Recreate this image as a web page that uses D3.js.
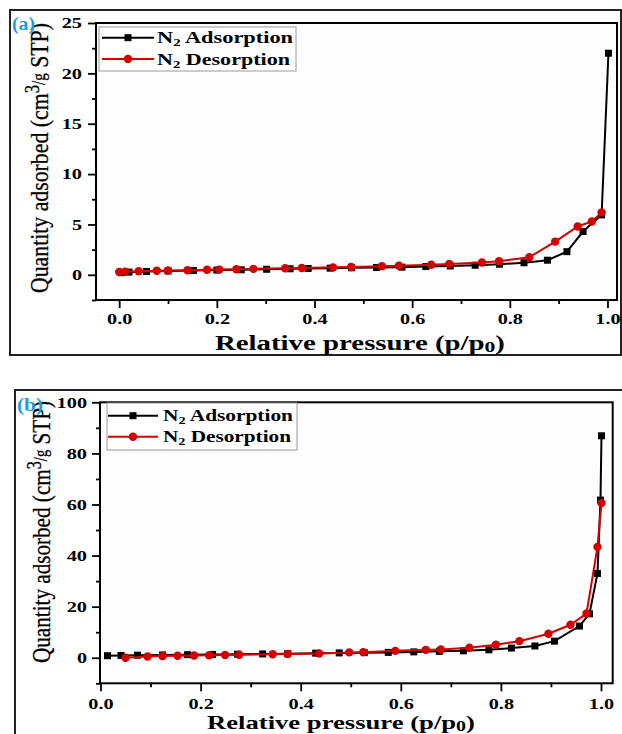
<!DOCTYPE html>
<html>
<head>
<meta charset="utf-8">
<script src="https://cdn.jsdelivr.net/npm/d3@7"></script>
<style>
  html, body { margin: 0; padding: 0; background: #fff; }
  svg { display: block; }
  text { font-family: "Liberation Serif", "DejaVu Serif", serif; }
</style>
</head>
<body>
<svg id="chart" width="622" height="734"></svg>
<script>
// ---- Panel (a): N2 isotherm ----
const adsP_A = [0.005, 0.02, 0.056, 0.10, 0.152, 0.20, 0.25, 0.302, 0.35, 0.387, 0.432, 0.476, 0.527, 0.579, 0.628, 0.678, 0.729, 0.779, 0.829, 0.877, 0.917, 0.950, 0.988, 1.002];
const adsV_A = [0.22, 0.27, 0.33, 0.38, 0.43, 0.47, 0.50, 0.55, 0.60, 0.63, 0.66, 0.70, 0.73, 0.76, 0.82, 0.88, 0.95, 1.05, 1.20, 1.45, 2.30, 4.30, 5.95, 22.0];
const desP_A = [0.0, 0.012, 0.04, 0.077, 0.10, 0.14, 0.18, 0.205, 0.24, 0.275, 0.34, 0.374, 0.438, 0.475, 0.538, 0.573, 0.639, 0.676, 0.743, 0.778, 0.84, 0.893, 0.939, 0.968, 0.988];
const desV_A = [0.28, 0.32, 0.36, 0.40, 0.43, 0.46, 0.50, 0.52, 0.56, 0.59, 0.65, 0.68, 0.74, 0.78, 0.86, 0.90, 1.00, 1.08, 1.22, 1.35, 1.75, 3.30, 4.80, 5.30, 6.20];

// ---- Panel (b): N2 isotherm ----
const adsP_B = [0.014, 0.041, 0.074, 0.124, 0.174, 0.224, 0.274, 0.324, 0.374, 0.43, 0.477, 0.527, 0.575, 0.626, 0.677, 0.725, 0.776, 0.821, 0.868, 0.907, 0.957, 0.977, 0.993, 0.999, 1.001];
const adsV_B = [0.8, 0.9, 1.0, 1.1, 1.2, 1.3, 1.4, 1.5, 1.6, 1.8, 1.9, 2.0, 2.1, 2.3, 2.5, 2.7, 3.1, 3.8, 4.6, 6.5, 12.4, 17.2, 33.0, 61.7, 86.9];
const desP_B = [0.05, 0.094, 0.124, 0.154, 0.187, 0.217, 0.249, 0.277, 0.344, 0.374, 0.437, 0.497, 0.525, 0.589, 0.65, 0.68, 0.737, 0.79, 0.837, 0.895, 0.939, 0.971, 0.993, 1.001];
const desV_B = [0.0, 0.5, 0.7, 0.8, 0.9, 1.0, 1.1, 1.2, 1.4, 1.5, 1.7, 2.1, 2.2, 2.7, 3.1, 3.25, 3.9, 5.1, 6.5, 9.4, 12.9, 17.3, 43.4, 60.6];

// ---- Ticks and labels ----
const xTicks = [0, 0.2, 0.4, 0.6, 0.8, 1.0];
const xMinor = [0.1, 0.3, 0.5, 0.7, 0.9];
const yTicksA = [0, 5, 10, 15, 20, 25];
const yMinorA = [-2.5, 2.5, 7.5, 12.5, 17.5, 22.5];
const yTicksB = [0, 20, 40, 60, 80, 100];
const yMinorB = [-10, 10, 30, 50, 70, 90];
const seriesNames = ["Adsorption", "Desorption"];
const panelTags = ["(a)", "(b)"];

const BLACK = "#000";
const RED = "#d40000";
const TAG = "#1e9ee0";
const svg = d3.select("#chart");

// widen glyphs horizontally to the look of the figure's lettering
function stretch(sel, k) {
  sel.each(function () {
    const L = this.getComputedTextLength();
    this.setAttribute("textLength", (L * k).toFixed(1));
    this.setAttribute("lengthAdjust", "spacingAndGlyphs");
  });
}

function zip(ps, vs) { return ps.map((p, i) => ({ p, v: vs[i] })); }

function panel(cfg) {
  const g = svg.append("g");
  const x = d3.scaleLinear().domain(cfg.xDomain).range([cfg.left, cfg.right]);
  const y = d3.scaleLinear().domain(cfg.yDomain).range([cfg.bottom, cfg.top]);

  // outer frame
  g.append("rect")
    .attr("x", cfg.frame[0]).attr("y", cfg.frame[1])
    .attr("width", cfg.frame[2] - cfg.frame[0]).attr("height", cfg.frame[3] - cfg.frame[1])
    .attr("fill", "none").attr("stroke", "#222").attr("stroke-width", 2);

  // plot background
  g.append("rect")
    .attr("x", cfg.left).attr("y", cfg.top)
    .attr("width", cfg.right - cfg.left).attr("height", cfg.bottom - cfg.top)
    .attr("fill", "#fdfdfd");

  // axes
  const ax = g.append("g").attr("transform", `translate(0,${cfg.bottom})`)
    .call(d3.axisBottom(x).tickValues(xTicks).tickSize(8).tickPadding(cfg.xPad).tickFormat(d3.format(".1f")));
  g.append("g").attr("transform", `translate(0,${cfg.bottom})`)
    .call(d3.axisBottom(x).tickValues(xMinor).tickSize(4).tickFormat(""));
  const ay = g.append("g").attr("transform", `translate(${cfg.left},0)`)
    .call(d3.axisLeft(y).tickValues(cfg.yTicks).tickSize(8).tickPadding(cfg.yPad).tickFormat(d3.format("d")));
  g.append("g").attr("transform", `translate(${cfg.left},0)`)
    .call(d3.axisLeft(y).tickValues(cfg.yMinor).tickSize(4).tickFormat(""));

  g.selectAll(".domain").remove();
  g.selectAll(".tick line").attr("stroke", "#000").attr("stroke-width", 1.8);
  g.selectAll(".tick text")
    .attr("fill", "#000").attr("font-family", "Liberation Serif, serif")
    .attr("font-weight", "bold").attr("font-size", 15);
  stretch(ax.selectAll(".tick text"), 1.35);
  stretch(ay.selectAll(".tick text"), 1.35);

  // plot box
  g.append("rect")
    .attr("x", cfg.left).attr("y", cfg.top)
    .attr("width", cfg.right - cfg.left).attr("height", cfg.bottom - cfg.top)
    .attr("fill", "none").attr("stroke", "#000").attr("stroke-width", 2);

  const line = d3.line().x(d => x(d.p)).y(d => y(d.v));
  const ads = zip(cfg.adsP, cfg.adsV);
  const des = zip(cfg.desP, cfg.desV);

  g.append("path").datum(ads).attr("d", line)
    .attr("fill", "none").attr("stroke", BLACK).attr("stroke-width", 2);
  g.selectAll(".sq").data(ads).join("rect").attr("class", "sq")
    .attr("x", d => x(d.p) - 3.5).attr("y", d => y(d.v) - 3.5)
    .attr("width", 7).attr("height", 7).attr("fill", BLACK);

  g.append("path").datum(des).attr("d", line)
    .attr("fill", "none").attr("stroke", RED).attr("stroke-width", 2);
  g.selectAll(".ci").data(des).join("circle").attr("class", "ci")
    .attr("cx", d => x(d.p)).attr("cy", d => y(d.v)).attr("r", 4.2).attr("fill", RED);

  // legend
  const L = cfg.legend;
  g.append("rect").attr("x", L.x0).attr("y", L.y0).attr("width", L.x1 - L.x0).attr("height", L.y1 - L.y0)
    .attr("fill", "#fff").attr("stroke", "#9a9a9a").attr("stroke-width", 1);
  seriesNames.forEach((name, i) => {
    const yy = L.rows[i];
    const col = i === 0 ? BLACK : RED;
    g.append("line").attr("x1", L.lx0).attr("x2", L.lx1).attr("y1", yy).attr("y2", yy)
      .attr("stroke", col).attr("stroke-width", 2);
    const mx = (L.lx0 + L.lx1) / 2;
    if (i === 0) {
      g.append("rect").attr("x", mx - 3.5).attr("y", yy - 3.5).attr("width", 7).attr("height", 7).attr("fill", col);
    } else {
      g.append("circle").attr("cx", mx).attr("cy", yy).attr("r", 4.2).attr("fill", col);
    }
    const t = g.append("text").attr("x", L.tx).attr("y", yy + 5.5)
      .attr("font-weight", "bold").attr("font-size", 16.5).attr("fill", "#000");
    t.append("tspan").text("N");
    t.append("tspan").attr("font-size", 11).attr("dy", 3).text("2");
    t.append("tspan").attr("dy", -3).text(" " + name);
    t.attr("textLength", L.tw[i]).attr("lengthAdjust", "spacingAndGlyphs");
  });

  // axis titles
  const xt = g.append("text").attr("x", cfg.xTitle[0]).attr("y", cfg.xTitle[1])
    .attr("text-anchor", "middle").attr("font-weight", "bold").attr("font-size", cfg.xTitleSize).attr("fill", "#000");
  xt.append("tspan").text("Relative pressure (p/p");
  xt.append("tspan").attr("font-size", cfg.xTitleSize * 0.75).attr("dy", 2).text("0");
  xt.append("tspan").attr("dy", -2).text(")");
  xt.attr("textLength", cfg.xTitleLen).attr("lengthAdjust", "spacingAndGlyphs");

  const yt = g.append("text")
    .attr("transform", `translate(${cfg.yTitle[0]},${cfg.yTitle[1]}) rotate(-90)`)
    .attr("text-anchor", "middle").attr("font-size", 26).attr("fill", "#000")
    .attr("stroke", "#000").attr("stroke-width", 0.3);
  yt.append("tspan").text("Quantity adsorbed (cm");
  yt.append("tspan").attr("font-size", 20).attr("dy", -9).text("3");
  yt.append("tspan").attr("font-size", 18).attr("dy", 6).text("/g");
  yt.append("tspan").attr("dy", 3).text(" STP)");
  yt.attr("textLength", cfg.yTitleLen).attr("lengthAdjust", "spacingAndGlyphs");

  // panel tag
  g.append("text").attr("x", cfg.tag[0]).attr("y", cfg.tag[1])
    .attr("font-weight", "bold").attr("font-size", 18).attr("fill", TAG)
    .attr("textLength", cfg.tag[2]).attr("lengthAdjust", "spacingAndGlyphs")
    .text(cfg.tagText);
}

panel({
  frame: [10, 10, 621, 355],
  left: 96, right: 617, top: 23, bottom: 300,
  xDomain: [-0.0475, 1.0195], yDomain: [-2.5, 25],
  yTicks: yTicksA, yMinor: yMinorA, xPad: 5, yPad: 6,
  adsP: adsP_A, adsV: adsV_A, desP: desP_A, desV: desV_A,
  legend: { x0: 99, x1: 296, y0: 27, y1: 71, lx0: 102, lx1: 154, tx: 157, rows: [37.7, 59], tw: [136, 133] },
  xTitle: [360, 350], xTitleSize: 20, xTitleLen: 290, yTitle: [48, 158], yTitleLen: 270,
  tag: [12, 30, 23], tagText: panelTags[0]
});

panel({
  frame: [15, 390, 640, 760],
  left: 100, right: 612.7, top: 402.3, bottom: 683.3,
  xDomain: [-0.001, 1.0234], yDomain: [-10, 100],
  yTicks: yTicksB, yMinor: yMinorB, xPad: 7, yPad: 5,
  adsP: adsP_B, adsV: adsV_B, desP: desP_B, desV: desV_B,
  legend: { x0: 107, x1: 297, y0: 403, y1: 450, lx0: 108, lx1: 158, tx: 163, rows: [415.7, 436.7], tw: [130, 128] },
  xTitle: [341, 729], xTitleSize: 19, xTitleLen: 268, yTitle: [50, 532], yTitleLen: 262,
  tag: [17, 411, 26], tagText: panelTags[1]
});
</script>
</body>
</html>
